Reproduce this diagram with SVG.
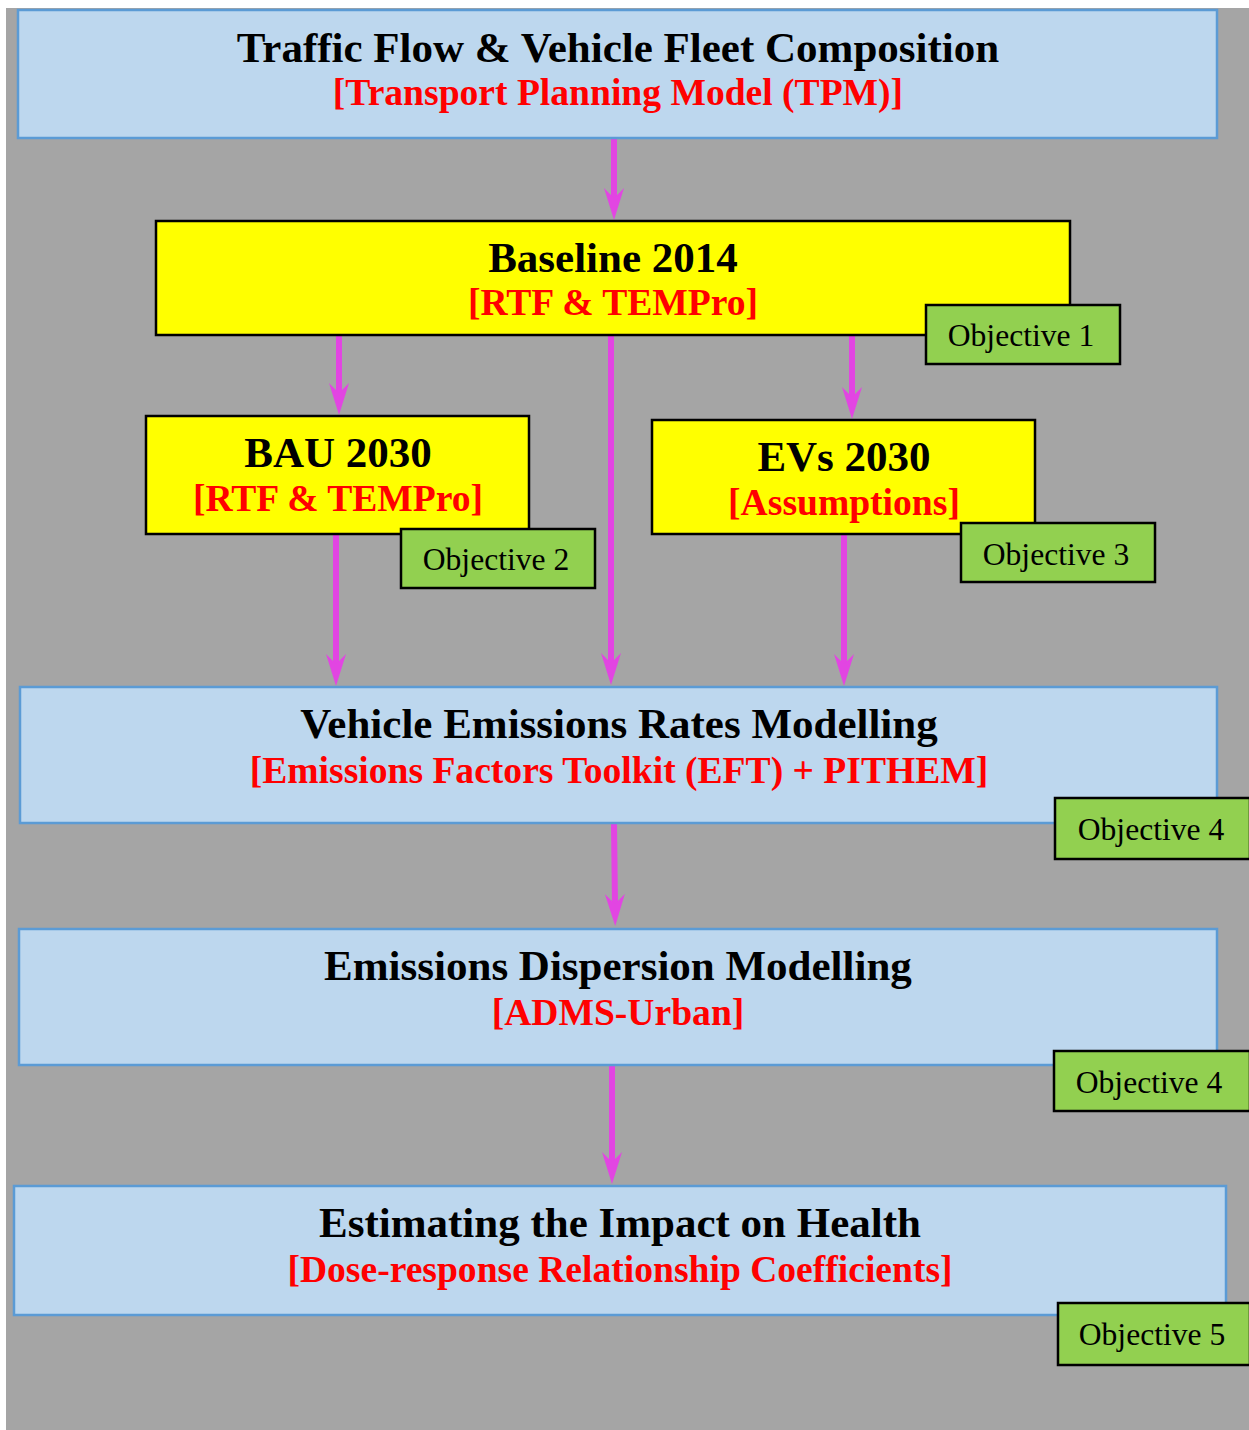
<svg xmlns="http://www.w3.org/2000/svg" width="1249" height="1430" viewBox="0 0 1249 1430">
<style>
.blue{fill:#bdd7ee;stroke:#5b9bd5;stroke-width:2.5}
.yel{fill:#ffff00;stroke:#000;stroke-width:2.5}
.obj{fill:#92d050;stroke:#000;stroke-width:2.5}
.t{font-family:"Liberation Serif","Times New Roman",serif;font-weight:bold;font-size:43px;fill:#000;text-anchor:middle}
.s{font-family:"Liberation Serif","Times New Roman",serif;font-weight:bold;font-size:37.6px;fill:#ff0000;text-anchor:middle}
.o{font-family:"Liberation Serif","Times New Roman",serif;font-size:31.6px;fill:#000;text-anchor:middle}
.c{stroke:#e245e2;stroke-width:6;fill:none;marker-end:url(#ah)}
</style>
<defs>
<marker id="ah" markerUnits="userSpaceOnUse" markerWidth="32" markerHeight="20" refX="12" refY="10" orient="auto" viewBox="0 0 32 20">
<path d="M32,10 L0,0 L10,10 L0,20 Z" fill="#e245e2"/>
</marker>
</defs>
<rect x="6" y="8" width="1243" height="1422" fill="#a5a5a5"/>
<g id="connectors">
<line class="c" x1="614" y1="139" x2="614" y2="200"/>
<line class="c" x1="339" y1="336" x2="339" y2="395"/>
<line class="c" x1="611" y1="336" x2="611" y2="665"/>
<line class="c" x1="852" y1="336" x2="852" y2="399"/>
<line class="c" x1="336" y1="535" x2="336" y2="666"/>
<line class="c" x1="844" y1="535" x2="844" y2="666"/>
<line class="c" x1="614" y1="824" x2="615" y2="906"/>
<line class="c" x1="612" y1="1066" x2="612" y2="1164"/>
</g>
<g id="tpm">
<rect class="blue" x="18" y="10" width="1199" height="128"/>
<text class="t" x="618" y="62">Traffic Flow &amp; Vehicle Fleet Composition</text>
<text class="s" x="618" y="105">[Transport Planning Model (TPM)]</text>
</g>
<g id="baseline">
<rect class="yel" x="156" y="221" width="914" height="114"/>
<text class="t" x="613" y="272">Baseline 2014</text>
<text class="s" x="613" y="315">[RTF &amp; TEMPro]</text>
</g>
<g id="obj1">
<rect class="obj" x="926" y="305" width="194" height="59"/>
<text class="o" x="1021" y="346">Objective 1</text>
</g>
<g id="bau">
<rect class="yel" x="146" y="416" width="383" height="118"/>
<text class="t" x="338" y="467">BAU 2030</text>
<text class="s" x="338" y="511">[RTF &amp; TEMPro]</text>
</g>
<g id="obj2">
<rect class="obj" x="401" y="529" width="194" height="59"/>
<text class="o" x="496" y="570">Objective 2</text>
</g>
<g id="evs">
<rect class="yel" x="652" y="420" width="383" height="114"/>
<text class="t" x="844" y="471">EVs 2030</text>
<text class="s" x="844" y="515">[Assumptions]</text>
</g>
<g id="obj3">
<rect class="obj" x="961" y="523" width="194" height="59"/>
<text class="o" x="1056" y="565">Objective 3</text>
</g>
<g id="eft">
<rect class="blue" x="20" y="687" width="1197" height="136"/>
<text class="t" x="619" y="738">Vehicle Emissions Rates Modelling</text>
<text class="s" x="619" y="783">[Emissions Factors Toolkit (EFT) + PITHEM]</text>
</g>
<g id="obj4a">
<rect class="obj" x="1055" y="798" width="195" height="61"/>
<text class="o" x="1151" y="840">Objective 4</text>
</g>
<g id="adms">
<rect class="blue" x="19" y="929" width="1198" height="136"/>
<text class="t" x="618" y="980">Emissions Dispersion Modelling</text>
<text class="s" x="618" y="1025">[ADMS-Urban]</text>
</g>
<g id="obj4b">
<rect class="obj" x="1054" y="1051" width="196" height="60"/>
<text class="o" x="1149" y="1093">Objective 4</text>
</g>
<g id="health">
<rect class="blue" x="14" y="1186" width="1212" height="129"/>
<text class="t" x="620" y="1237">Estimating the Impact on Health</text>
<text class="s" x="620" y="1282">[Dose-response Relationship Coefficients]</text>
</g>
<g id="obj5">
<rect class="obj" x="1058" y="1303" width="192" height="62"/>
<text class="o" x="1152" y="1345">Objective 5</text>
</g>
</svg>
